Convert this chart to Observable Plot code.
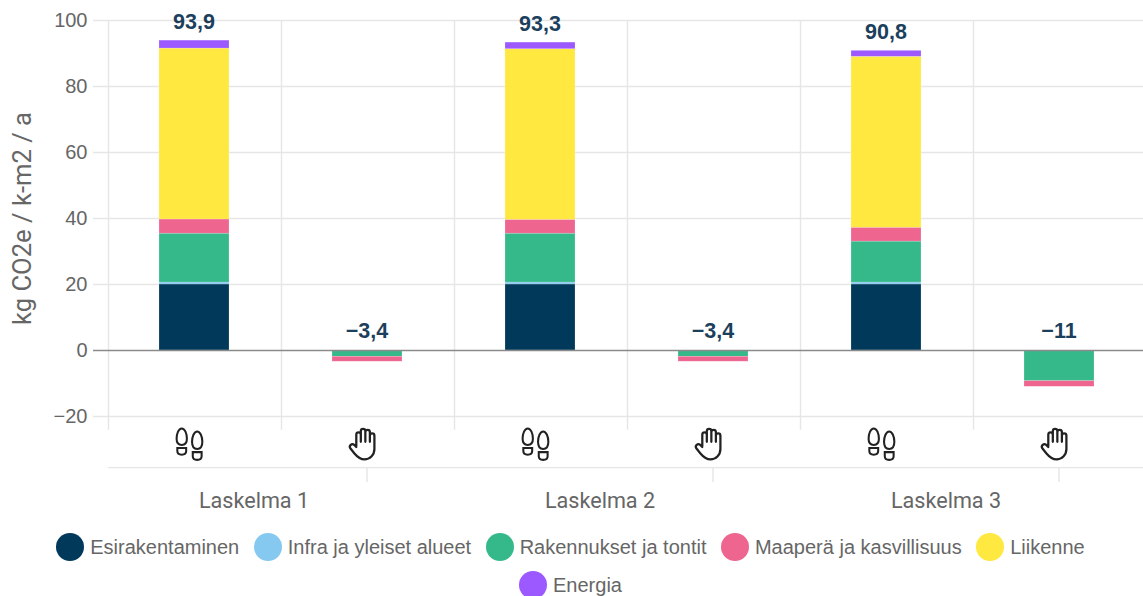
<!DOCTYPE html>
<html><head><meta charset="utf-8">
<script src="https://cdn.jsdelivr.net/npm/d3@7"></script>
<script src="https://cdn.jsdelivr.net/npm/@observablehq/plot@0.6"></script>
<style>
html,body{margin:0;padding:0;background:#fff;width:1143px;height:596px;overflow:hidden}
svg{display:block}
#legend{display:flex;flex-wrap:wrap;justify-content:center;column-gap:14.5px;row-gap:10px;width:1141px;margin-top:8px;font:20px "Liberation Sans",sans-serif;color:#666}
#legend div{display:flex;align-items:center;gap:6px;height:28px;white-space:nowrap}
#legend i{display:block;width:28px;height:28px;border-radius:50%}
</style></head><body>
<div id="chart"></div><div id="legend"></div>
<script>
const slots = ["L1 jalanjälki","L1 kädenjälki","L2 jalanjälki","L2 kädenjälki","L3 jalanjälki","L3 kädenjälki"];
const series = ["Esirakentaminen","Infra ja yleiset alueet","Rakennukset ja tontit","Maaperä ja kasvillisuus","Liikenne","Energia"];
const colors = ["#00395a","#85c8f0","#36b98a","#ee6690","#ffe83f","#9b59ff"];
const esirakentaminen = [20.0,0,20.0,0,20.0,0];
const infra = [0.6,0,0.6,0,0.6,0];
const rakennukset = [14.8,-1.9,14.8,-1.9,12.4,-9.3];
const maapera = [4.3,-1.5,4.2,-1.5,4.2,-1.7];
const liikenne = [51.8,0,51.7,0,51.8,0];
const energia = [2.4,0,2.0,0,1.8,0];
const totals = [93.9,-3.4,93.3,-3.4,90.8,-11];
const groupLabels = ["Laskelma 1","Laskelma 2","Laskelma 3"];
const yTicks = [-20,0,20,40,60,80,100];

const columns = [esirakentaminen,infra,rakennukset,maapera,liikenne,energia];
const rows = series.flatMap((s,k)=>slots.map((slot,i)=>({slot,series:s,value:columns[k][i]}))).filter(d=>d.value!==0);
const totalRows = slots.map((slot,i)=>({slot,total:totals[i]}));
const fmt = v => String(v).replace(".",",").replace("-","\u2212");

const foot = `<svg xmlns="http://www.w3.org/2000/svg" viewBox="0 0 32 34"><g fill="none" stroke="#222" stroke-width="2">
<path d="M7.5 2 C10.5 2 12.5 7 12.5 12 C12.5 16 10.5 18 7.5 18 C4.5 18 2.5 16 2.5 12 C2.5 7 4.5 2 7.5 2Z"/>
<path d="M3.2 21 H11.8 V24 C11.8 26.5 10 27.5 7.5 27.5 C5 27.5 3.2 26.5 3.2 24Z"/>
<path d="M22.5 5 C25.5 5 27.5 10 27.5 15 C27.5 19.5 25.5 22 22.5 22 C19.5 22 17.5 19.5 17.5 15 C17.5 10 19.5 5 22.5 5Z"/>
<path d="M18.2 25 H26.8 V29 C26.8 31.5 25 32.5 22.5 32.5 C20 32.5 18.2 31.5 18.2 29Z"/></g></svg>`;
const hand = `<svg xmlns="http://www.w3.org/2000/svg" viewBox="0 0 32 34"><path fill="none" stroke="#222" stroke-width="2.2" stroke-linecap="round" stroke-linejoin="round" d="M9 19 V8 a2.2 2.2 0 0 1 4.4 0 V15 M13.4 15 V4.5 a2.2 2.2 0 0 1 4.4 0 V15 M17.8 15 V5.5 a2.2 2.2 0 0 1 4.4 0 V15 M22.2 15 V9 a2.2 2.2 0 0 1 4.4 0 V22 C26.6 28 22 32 17 32 C12 32 9.5 29 7 26 L3 21 C1.8 19 4.5 16 7 18 L9 20"/></svg>`;
const uri = s => "data:image/svg+xml;base64," + btoa(s);
const icons = slots.map((slot,i)=>({slot,src:uri(i%2?hand:foot)}));

const grey = "#e6e6e6";
const plot = Plot.plot({
  width:1143, height:525, marginLeft:93, marginRight:0, marginTop:20, marginBottom:109,
  style:{fontFamily:"Liberation Sans,sans-serif",background:"#fff",overflow:"visible"},
  x:{type:"band",domain:slots,range:[107.5,1145.5],padding:0,axis:null},
  y:{domain:[-20,100],range:[416,20]},
  color:{domain:series,range:colors},
  marks:[
    Plot.ruleY(yTicks.filter(d=>d!==0),{stroke:grey,strokeWidth:1.4}),
    Plot.ruleX(slots,{x:d=>d,y1:100,y2:-24.2,dx:-86.5,stroke:grey,strokeWidth:1.4}),
    Plot.ruleY([-35.5],{x1:()=>slots[0],x2:()=>slots[5],insetRight:-173,stroke:grey,strokeWidth:1.4}),
    Plot.ruleX(slots.filter((d,i)=>i%2),{x:d=>d,y1:-35.5,y2:-40,dx:-1,stroke:grey,strokeWidth:1.4}),
    Plot.barY(rows,{x:"slot",y:"value",fill:"series",insetLeft:51,insetRight:52,stroke:"#fff",strokeOpacity:.3,strokeWidth:.6}),
    Plot.ruleY([0],{stroke:"#8a8a8a",strokeWidth:1.4}),
    Plot.axisY({ticks:yTicks,tickSize:0,tickPadding:6,fontSize:20,color:"#666",tickFormat:d=>d<0?"\u2212"+(-d):d,label:null}),
    Plot.text(["kg CO2e / k-m2 / a"],{text:d=>d,frameAnchor:"left",y:40,dx:-71,rotate:-90,fontSize:25.6,fontFamily:"Roboto",fill:"#666",textAnchor:"middle"}),
    Plot.text(totalRows,{x:"slot",y:d=>Math.max(0,d.total),text:d=>fmt(d.total),dy:-19,dx:-1,fontSize:21.5,fontWeight:"bold",fill:"#1c3f5c",stroke:"none"}),
    Plot.image(icons,{x:"slot",y:-28.3,src:"src",width:33,height:35,dx:-4.5}),
    Plot.text(groupLabels,{x:(d,i)=>slots[i*2],y:-45.5,text:d=>d,dx:59,fontSize:21.6,fontFamily:"Roboto",fill:"#666"})
  ]
});
document.getElementById("chart").append(plot);
const lg = document.getElementById("legend");
series.forEach((s,i)=>{const d=document.createElement("div");const c=document.createElement("i");c.style.background=colors[i];d.append(c,document.createTextNode(s));lg.append(d);});
</script></body></html>
